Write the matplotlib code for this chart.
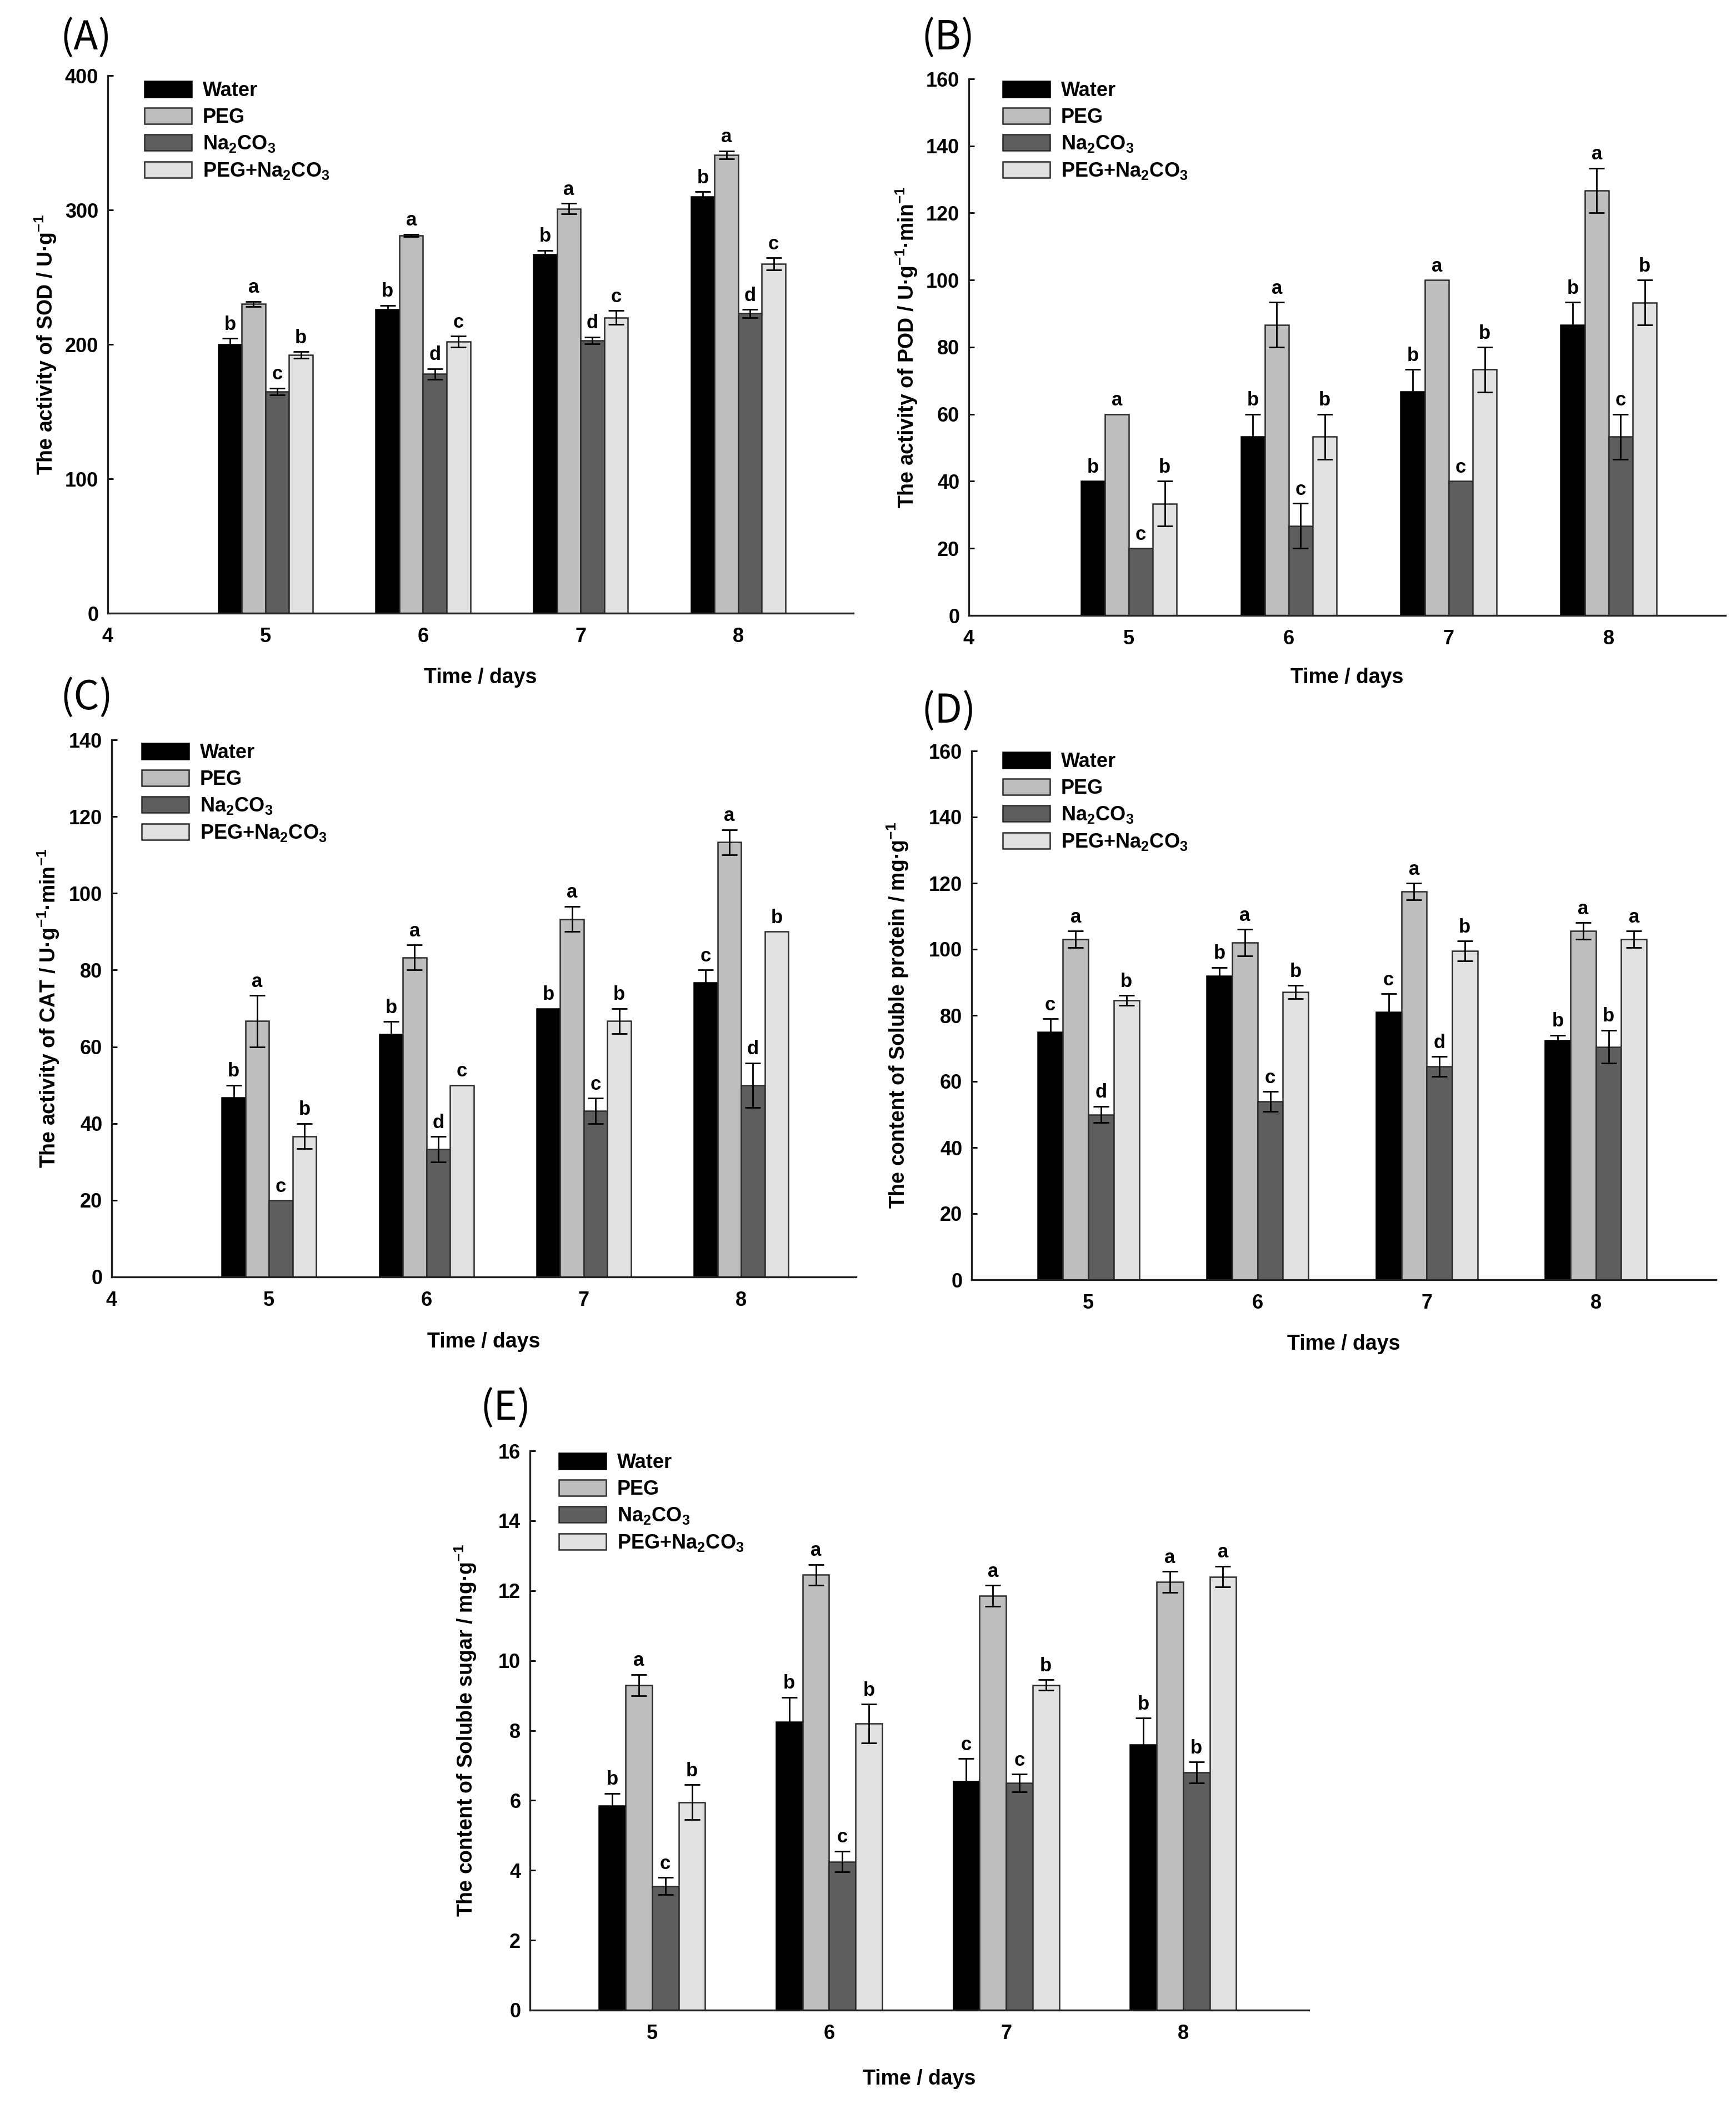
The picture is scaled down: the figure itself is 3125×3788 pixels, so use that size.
import numpy as np
import matplotlib
matplotlib.use('Agg')
import matplotlib.pyplot as plt
from matplotlib import font_manager

# ---- data ----
days = [5, 6, 7, 8]
treatments = ['Water', 'PEG', r'Na$_2$CO$_3$', r'PEG+Na$_2$CO$_3$']

# rows: Water, PEG, Na2CO3, PEG+Na2CO3 ; columns: day 5..8
sod_mean = [[200, 226, 267, 310], [230, 281, 301, 341],
            [165, 178, 203, 223], [192, 202, 220, 260]]
sod_err = [[4.5, 3, 3, 3.5], [2, 1, 4, 3],
           [2.5, 4, 2.5, 3], [2.5, 4, 5, 4.5]]
sod_sig = [list('bbbb'), list('aaaa'), list('cddd'), list('bccc')]

pod_mean = [[40, 53.3, 66.7, 86.7], [60, 86.7, 100, 126.7],
            [20, 26.7, 40, 53.3], [33.3, 53.3, 73.3, 93.3]]
pod_err = [[0, 6.7, 6.7, 6.7], [0, 6.7, 0, 6.7],
           [0, 6.7, 0, 6.7], [6.7, 6.7, 6.7, 6.7]]
pod_sig = [list('bbbb'), list('aaaa'), list('cccc'), list('bbbb')]

cat_mean = [[46.7, 63.3, 70, 76.7], [66.7, 83.3, 93.3, 113.3],
            [20, 33.3, 43.3, 50], [36.7, 50, 66.7, 90]]
cat_err = [[3.3, 3.3, 0, 3.3], [6.7, 3.3, 3.3, 3.3],
           [0, 3.3, 3.3, 5.8], [3.3, 0, 3.3, 0]]
cat_sig = [list('bbbc'), list('aaaa'), list('cdcd'), list('bcbb')]

prot_mean = [[75, 92, 81, 72.5], [103, 102, 117.5, 105.5],
             [50, 54, 64.5, 70.5], [84.5, 87, 99.5, 103]]
prot_err = [[4, 2.5, 5.5, 1.5], [2.5, 4, 2.5, 2.5],
            [2.5, 3, 3, 5], [1.5, 2, 3, 2.5]]
prot_sig = [list('cbcb'), list('aaaa'), list('dcdb'), list('bbba')]

sugar_mean = [[5.85, 8.25, 6.55, 7.6], [9.3, 12.45, 11.85, 12.25],
              [3.55, 4.25, 6.5, 6.8], [5.95, 8.2, 9.3, 12.4]]
sugar_err = [[0.35, 0.7, 0.65, 0.75], [0.3, 0.3, 0.3, 0.3],
             [0.25, 0.3, 0.25, 0.3], [0.5, 0.55, 0.15, 0.3]]
sugar_sig = [list('bbcb'), list('aaaa'), list('cccb'), list('bbba')]

# ---- style ----
fills = ['#000000', '#bebebe', '#5e5e5e', '#e1e1e1']
edges = ['#000000', '#2b2b2b', '#2b2b2b', '#2b2b2b']

names = {f.name for f in font_manager.fontManager.ttflist}
main_font = 'Liberation Sans Narrow' if 'Liberation Sans Narrow' in names else 'Liberation Sans'
plt.rcParams['font.family'] = [main_font, 'DejaVu Sans']
plt.rcParams['font.weight'] = 'bold'
plt.rcParams['axes.labelweight'] = 'bold'
plt.rcParams['mathtext.fontset'] = 'custom'
plt.rcParams['mathtext.bf'] = main_font + ':bold'
plt.rcParams['mathtext.rm'] = main_font + ':bold'
plt.rcParams['mathtext.default'] = 'bf'

W, H, DPI = 3125, 3788, 200
fig = plt.figure(figsize=(W / DPI, H / DPI), dpi=DPI)


def panel(box, means, errs, sig, ymax, ystep, xlim, xticks, ylabel,
          tag, tag_xy, leg_off, ylab_dx, xlab_dy):
    l, t, r, b = box
    ax = fig.add_axes([l / W, 1 - b / H, (r - l) / W, (b - t) / H])
    axw, axh = r - l, b - t

    w = 0.15
    offs = (np.arange(4) - 1.5) * w
    x = np.array(days, float)
    for i in range(4):
        xi = x + offs[i]
        m = np.array(means[i], float)
        e = np.array(errs[i], float)
        ax.bar(xi, m, w, color=fills[i], edgecolor=edges[i], linewidth=0.9,
               label=treatments[i], zorder=2)
        has = e > 0
        if has.any():
            ax.errorbar(xi[has], m[has], yerr=e[has], fmt='none', ecolor='black',
                        elinewidth=1.0, capsize=5, capthick=1.0, zorder=3)
        for xx, mm, ee, s in zip(xi, m, e, sig[i]):
            ax.annotate(s, (xx, mm + ee), xytext=(0, 3), textcoords='offset points',
                        ha='center', va='bottom', fontsize=12.5, fontweight='bold')

    ax.set_xlim(*xlim)
    ax.set_ylim(0, ymax)
    ax.set_xticks(xticks)
    ax.set_yticks(np.arange(0, ymax + ystep / 2, ystep))
    ax.tick_params(axis='y', direction='in', length=3.6, width=1.0, pad=6, labelsize=13)
    ax.tick_params(axis='x', length=0, pad=9, labelsize=13)
    for sp in ['top', 'right']:
        ax.spines[sp].set_visible(False)
    for sp in ['left', 'bottom']:
        ax.spines[sp].set_linewidth(1.2)
        ax.spines[sp].set_color('#222222')

    ax.set_ylabel(ylabel, fontsize=13.5, va='center')
    ax.yaxis.set_label_coords(-ylab_dx / axw, 0.5)
    ax.set_xlabel('Time / days', fontsize=13.5, va='center')
    ax.xaxis.set_label_coords(0.5, -xlab_dy / axh)

    ax.legend(loc='upper left', bbox_to_anchor=(leg_off[0] / axw, 1 - leg_off[1] / axh),
              frameon=False, borderpad=0, borderaxespad=0, handlelength=2.35,
              handleheight=0.85, handletextpad=0.55, labelspacing=0.35, fontsize=13)

    fig.text(tag_xy[0] / W, 1 - tag_xy[1] / H, tag, ha='left', va='center',
             fontsize=26, fontweight='normal',
             family=['Noto Sans CJK SC', 'DejaVu Sans'])
    return ax


panel((194, 136, 1536, 1104), sod_mean, sod_err, sod_sig, 400, 100,
      (4, 8.73), [4, 5, 6, 7, 8], 'The activity of SOD / U·g$^{-1}$',
      '(A)', (108, 68), (66, 10), 112, 116)
panel((1744, 142, 3106, 1108), pod_mean, pod_err, pod_sig, 160, 20,
      (4, 8.73), [4, 5, 6, 7, 8], 'The activity of POD / U·g$^{-1}$·min$^{-1}$',
      '(B)', (1658, 68), (61, 4), 112, 112)
panel((201, 1332, 1541, 2299), cat_mean, cat_err, cat_sig, 140, 20,
      (4, 8.73), [4, 5, 6, 7, 8], 'The activity of CAT / U·g$^{-1}$·min$^{-1}$',
      '(C)', (108, 1256), (54, 6), 114, 117)
panel((1749, 1352, 3089, 2304), prot_mean, prot_err, prot_sig, 160, 20,
      (4.31, 8.71), [5, 6, 7, 8], 'The content of Soluble protein / mg·g$^{-1}$',
      '(D)', (1658, 1280), (56, 2), 133, 116)
panel((954, 2612, 2356, 3619), sugar_mean, sugar_err, sugar_sig, 16, 2,
      (4.31, 8.71), [5, 6, 7, 8], 'The content of Soluble sugar / mg·g$^{-1}$',
      '(E)', (864, 2535), (52, 4), 116, 124)

fig.savefig('out.png', dpi=DPI)
print('saved out.png')
